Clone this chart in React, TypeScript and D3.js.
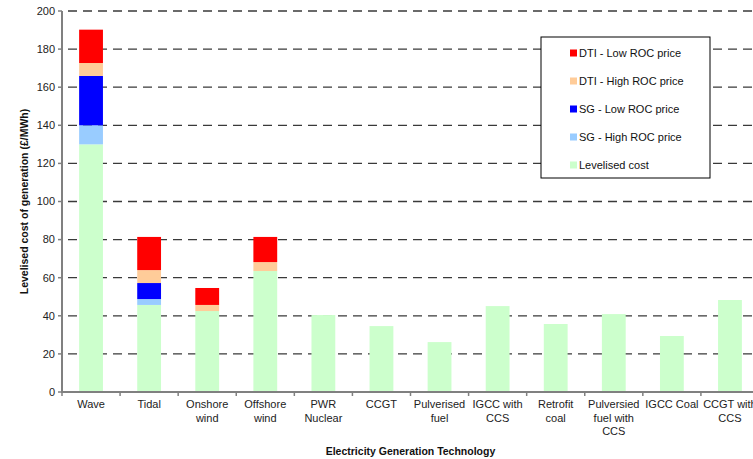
import { useMemo } from "react";
import * as d3 from "d3";

// categories (x axis), "\n" splits label lines
const categories = [
  "Wave",
  "Tidal",
  "Onshore\nwind",
  "Offshore\nwind",
  "PWR\nNuclear",
  "CCGT",
  "Pulverised\nfuel",
  "IGCC with\nCCS",
  "Retrofit\ncoal",
  "Pulversied\nfuel with\nCCS",
  "IGCC Coal",
  "CCGT with\nCCS",
];

// stacked components (bottom to top), £/MWh
const levelisedCost = [130, 45.7, 42.5, 63.5, 40.4, 34.6, 26.2, 45.1, 35.7, 40.9, 29.4, 48.3];
const sgHighRoc = [10, 3.1, 0, 0, 0, 0, 0, 0, 0, 0, 0, 0];
const sgLowRoc = [25.9, 8.4, 0, 0, 0, 0, 0, 0, 0, 0, 0, 0];
const dtiHighRoc = [6.8, 6.8, 3.2, 4.7, 0, 0, 0, 0, 0, 0, 0, 0];
const dtiLowRoc = [17.5, 17.4, 8.9, 13.2, 0, 0, 0, 0, 0, 0, 0, 0];

const yTicks = [0, 20, 40, 60, 80, 100, 120, 140, 160, 180, 200];

const SERIES = [
  { key: "lev", label: "Levelised cost", color: "#CCFFCC", values: levelisedCost },
  { key: "sgHigh", label: "SG - High ROC price", color: "#99CCFF", values: sgHighRoc },
  { key: "sgLow", label: "SG - Low ROC price", color: "#0000FF", values: sgLowRoc },
  { key: "dtiHigh", label: "DTI - High ROC price", color: "#FFCC99", values: dtiHighRoc },
  { key: "dtiLow", label: "DTI - Low ROC price", color: "#FF0000", values: dtiLowRoc },
];

const W = 753;
const H = 459;
const M = { top: 11, left: 62, bottom: 67 };
const PLOT_W = 697; // runs past the right edge, as in the original
const FONT = "'Liberation Sans', Arial, sans-serif";

export default function App() {
  const plotH = H - M.top - M.bottom;

  const x = useMemo(() => d3.scaleBand<string>().domain(categories).range([M.left, M.left + PLOT_W]).padding(0), []);
  const y = useMemo(() => d3.scaleLinear().domain([0, 200]).range([M.top + plotH, M.top]), [plotH]);

  const rows = categories.map((c, i) => {
    const r: Record<string, any> = { cat: c };
    SERIES.forEach((s) => (r[s.key] = s.values[i]));
    return r;
  });
  const stacked = d3.stack<Record<string, any>>().keys(SERIES.map((s) => s.key))(rows);

  const barW = x.bandwidth() * 0.41;
  const y0 = y(0);

  return (
    <svg
      width={W}
      height={H}
      style={{ position: "fixed", left: 0, top: 0, background: "#fff", fontFamily: FONT }}
    >
      {/* gridlines */}
      {yTicks.filter((t) => t > 0).map((t) => (
        <line
          key={"g" + t}
          x1={M.left + 6}
          x2={W}
          y1={y(t)}
          y2={y(t)}
          stroke="#3a3a3a"
          strokeWidth={1.3}
          strokeDasharray="9,6"
        />
      ))}

      {/* bars */}
      {stacked.map((layer, li) => (
        <g key={layer.key} fill={SERIES[li].color}>
          {layer.map((d, i) =>
            d[1] - d[0] > 0 ? (
              <rect
                key={i}
                x={x(categories[i])! + x.bandwidth() / 2 - barW / 2}
                y={y(d[1])}
                width={barW}
                height={y(d[0]) - y(d[1])}
              />
            ) : null
          )}
        </g>
      ))}

      {/* y axis */}
      <line x1={M.left} x2={M.left} y1={M.top} y2={y0 + 1} stroke="#808080" strokeWidth={2} />
      {yTicks.map((t) => (
        <g key={"y" + t}>
          <line x1={M.left - 4} x2={M.left} y1={y(t)} y2={y(t)} stroke="#808080" strokeWidth={1.5} />
          <text x={M.left - 7} y={y(t)} dy="0.35em" textAnchor="end" fontSize={11} fill="#222">
            {t}
          </text>
        </g>
      ))}

      {/* x axis */}
      <line x1={M.left} x2={W} y1={y0} y2={y0} stroke="#808080" strokeWidth={2} />
      {categories.map((c, i) => (
        <g key={"x" + i}>
          <line x1={x(c)!} x2={x(c)!} y1={y0} y2={y0 + 4} stroke="#808080" strokeWidth={1.5} />
          <text x={x(c)! + x.bandwidth() / 2} y={y0 + 16} textAnchor="middle" fontSize={11} fill="#222">
            {c.split("\n").map((line, li) => (
              <tspan key={li} x={x(c)! + x.bandwidth() / 2} dy={li === 0 ? 0 : 13.5}>
                {line}
              </tspan>
            ))}
          </text>
        </g>
      ))}

      {/* axis titles */}
      <text x={M.left + PLOT_W / 2} y={455} textAnchor="middle" fontSize={10.5} fontWeight="bold" fill="#111">
        Electricity Generation Technology
      </text>
      <text
        transform={`translate(28,${M.top + plotH / 2}) rotate(-90)`}
        textAnchor="middle"
        fontSize={10.5}
        fontWeight="bold"
        fill="#111"
      >
        Levelised cost of generation (£/MWh)
      </text>

      {/* legend */}
      <g>
        <rect x={541} y={37} width={169} height={141} fill="#fff" stroke="#000" strokeWidth={1} />
        {[...SERIES].reverse().map((s, i) => (
          <g key={s.key} transform={`translate(570,${53 + i * 28})`}>
            <rect x={0} y={-3.5} width={7} height={7} fill={s.color} />
            <text x={9} y={0} dy="0.35em" fontSize={11} fill="#111">
              {s.label}
            </text>
          </g>
        ))}
      </g>
    </svg>
  );
}
